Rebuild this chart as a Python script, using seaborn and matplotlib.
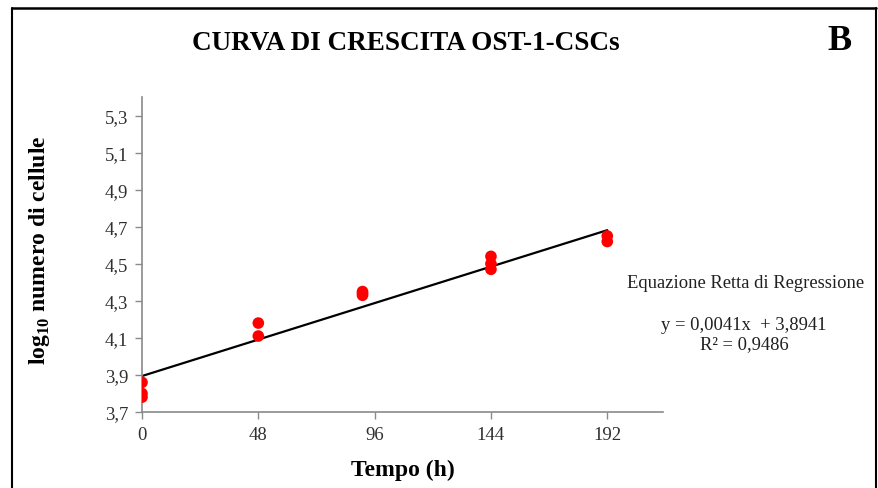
import matplotlib
matplotlib.use("Agg")
import matplotlib.pyplot as plt
import seaborn as sns
import pandas as pd
from matplotlib.lines import Line2D

# ---- data ----
hours = [0, 0, 0, 48, 48, 91, 91, 91, 144, 144, 144, 192, 192]
log_cells = [3.86, 3.80, 3.78, 4.18, 4.11, 4.35, 4.34, 4.33, 4.54, 4.50, 4.47, 4.65, 4.62]
slope = 0.0041
intercept = 3.8941
r2 = 0.9486
x_ticks = [0, 48, 96, 144, 192]
y_ticks = [3.7, 3.9, 4.1, 4.3, 4.5, 4.7, 4.9, 5.1, 5.3]
y_tick_labels = ["3,7", "3,9", "4,1", "4,3", "4,5", "4,7", "4,9", "5,1", "5,3"]

sns.set_theme(style="white")
plt.rcParams["font.family"] = ["Liberation Serif", "DejaVu Serif"]
plt.rcParams["mathtext.fontset"] = "custom"
plt.rcParams["mathtext.rm"] = "Liberation Serif"
plt.rcParams["mathtext.bf"] = "Liberation Serif:bold"

fig = plt.figure(figsize=(8.79, 4.89), dpi=100)
ax = fig.add_axes([142 / 879, 1 - 413 / 489, (663 - 142) / 879, (413 - 98) / 489])

df = pd.DataFrame({"h": hours, "v": log_cells})
line_x = [min(hours), max(hours)]
line_df = pd.DataFrame({"h": line_x, "v": [intercept + slope * x for x in line_x]})

sns.lineplot(data=line_df, x="h", y="v", ax=ax, color="black", linewidth=1.6, zorder=2)
sns.scatterplot(data=df, x="h", y="v", ax=ax, color="#ff0000", s=70, edgecolor="none", zorder=3)

ax.set_xlim(0, 215)
ax.set_ylim(3.7, 5.4)
ax.set_xticks(x_ticks)
ax.set_xticklabels([str(t) for t in x_ticks])
ax.set_yticks(y_ticks)
ax.set_yticklabels(y_tick_labels)
for s in ["top", "right"]:
    ax.spines[s].set_visible(False)
for s in ["left", "bottom"]:
    ax.spines[s].set_color("#8a8a8a")
    ax.spines[s].set_linewidth(1.2)
ax.tick_params(axis="both", which="major", direction="out", length=5, width=1,
               color="#8a8a8a", labelsize=13.5, labelcolor="#303030", pad=5,
               left=True, bottom=True)
ax.set_xlabel("")
ax.set_ylabel("")

fig.text(403 / 879, 1 - 470 / 489, "Tempo (h)", ha="center", va="center",
         fontsize=17, fontweight="bold", color="black")
fig.text(40 / 879, 1 - 250 / 489, r"log$_{\mathbf{10}}$ numero di cellule", ha="center", va="center",
         rotation=90, fontsize=17, fontweight="bold", color="black")

fig.text(406 / 879, 1 - 43 / 489, "CURVA DI CRESCITA OST-1-CSCs", ha="center", va="center",
         fontsize=19.5, fontweight="bold", color="black")
fig.text(840 / 879, 1 - 41 / 489, "B", ha="center", va="center",
         fontsize=26, fontweight="bold", color="black")

fig.text(746 / 879, 1 - 284 / 489, "Equazione Retta di Regressione", ha="center", va="center",
         fontsize=13.4, color="#202020")
fig.text(744 / 879, 1 - 325 / 489, "y = 0,0041x  + 3,8941", ha="center", va="center",
         fontsize=13.4, color="#202020")
fig.text(744 / 879, 1 - 345 / 489, "R² = 0,9486", ha="center", va="center",
         fontsize=13.4, color="#202020")

# frame border
lx, rx, ty = 12.5 / 879, 876.5 / 879, 1 - 9 / 489
fig.add_artist(Line2D([lx, lx], [0, ty], transform=fig.transFigure, color="black", linewidth=1.5))
fig.add_artist(Line2D([lx, rx], [ty, ty], transform=fig.transFigure, color="black", linewidth=1.8))
fig.add_artist(Line2D([rx, rx], [0, ty], transform=fig.transFigure, color="black", linewidth=1.5))

fig.savefig("out.png", dpi=100)
